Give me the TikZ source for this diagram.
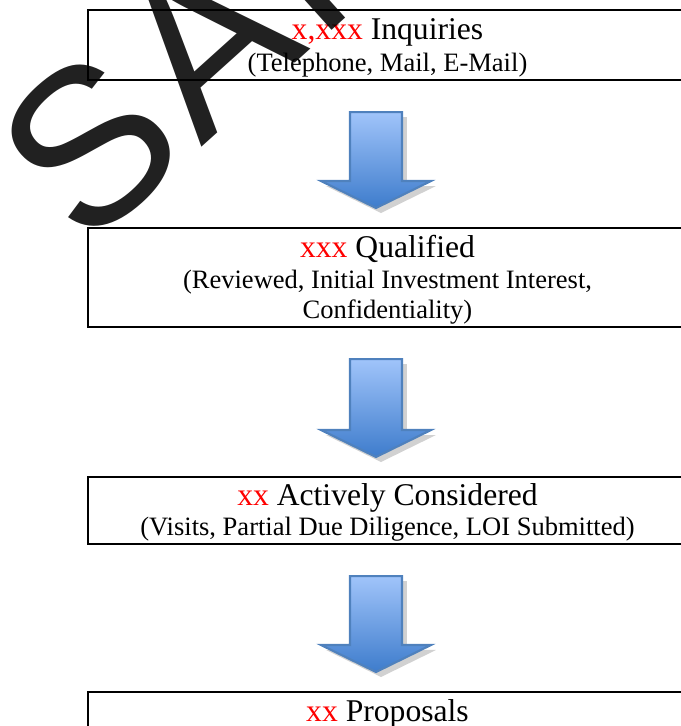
\documentclass[tikz,border=0pt]{standalone}
\usepackage{fontspec}
\setmainfont{Liberation Serif}
\newfontfamily\wmfont[LetterSpace=4]{Liberation Sans}
\usetikzlibrary{calc,shadows}
\definecolor{arrowtop}{RGB}{160,196,250}
\definecolor{arrowbot}{RGB}{62,124,204}
\definecolor{arrowrim}{RGB}{79,129,189}
\tikzset{
  stagebox/.style={draw,line width=0.6pt,anchor=north west,minimum width=6.01cm,inner sep=0pt},
  headline/.style={anchor=base,inner sep=0pt,font=\fontsize{9}{10}\selectfont},
  subline/.style={anchor=base,inner sep=0pt,align=center,font=\fontsize{7.55}{8.5}\selectfont},
  blkarrow/.style={draw=arrowrim,line width=0.6pt,top color=arrowtop,bottom color=arrowbot,
    drop shadow={shadow xshift=0.05cm,shadow yshift=-0.05cm,opacity=0.3,fill=black!60}},
  wmark/.style={anchor=base west,rotate=42,inner sep=0pt,text=black,opacity=0.87,
    font=\wmfont\fontsize{63}{63}\selectfont}
}
\newcommand{\cnt}[1]{\textcolor{red}{#1}}
\newcommand{\flowarrow}[2]{%
  \draw[blkarrow] let \p1=(#1.south west), \p2=(#2.north west) in
    (\x1+2.63cm,\y1-0.31cm) -- (\x1+3.15cm,\y1-0.31cm) -- (\x1+3.15cm,\y2+0.46cm)
    -- (\x1+3.44cm,\y2+0.46cm) -- (\x1+2.89cm,\y2+0.19cm) -- (\x1+2.34cm,\y2+0.46cm)
    -- (\x1+2.63cm,\y2+0.46cm) -- cycle;}

\begin{document}
\begin{tikzpicture}
\useasboundingbox (0,0) rectangle (6.81,7.26);
\clip (0,0) rectangle (6.81,7.26);
% stages
\node[stagebox,minimum height=0.70cm] (inq) at (0.87,7.17) {};
\node[stagebox,minimum height=0.99cm] (qual) at (0.87,4.99) {};
\node[stagebox,minimum height=0.67cm] (act) at (0.87,2.50) {};
\node[stagebox,minimum height=0.70cm] (prop) at (0.87,0.35) {};
% counts and details
\node[headline] (inqhead) at (3.875,6.865) {\cnt{x,xxx} Inquiries};
\node[subline] (inqsub) at (3.875,6.55) {(Telephone, Mail, E-Mail)};
\node[headline] (qualhead) at (3.875,4.69) {\cnt{xxx} Qualified};
\node[subline] (qualsub) at (3.875,4.08) {(Reviewed, Initial Investment Interest,\\ Confidentiality)};
\node[headline] (acthead) at (3.875,2.21) {\cnt{xx} Actively Considered};
\node[subline] (actsub) at (3.875,1.91) {(Visits, Partial Due Diligence, LOI Submitted)};
\node[headline] (prophead) at (3.875,0.04) {\cnt{xx} Proposals};
% arrows
\flowarrow{inq}{qual}
\flowarrow{qual}{act}
\flowarrow{act}{prop}
% watermark
\node[wmark] (wm) at (0.853,4.739) {SAMPLE};
\end{tikzpicture}
\end{document}
